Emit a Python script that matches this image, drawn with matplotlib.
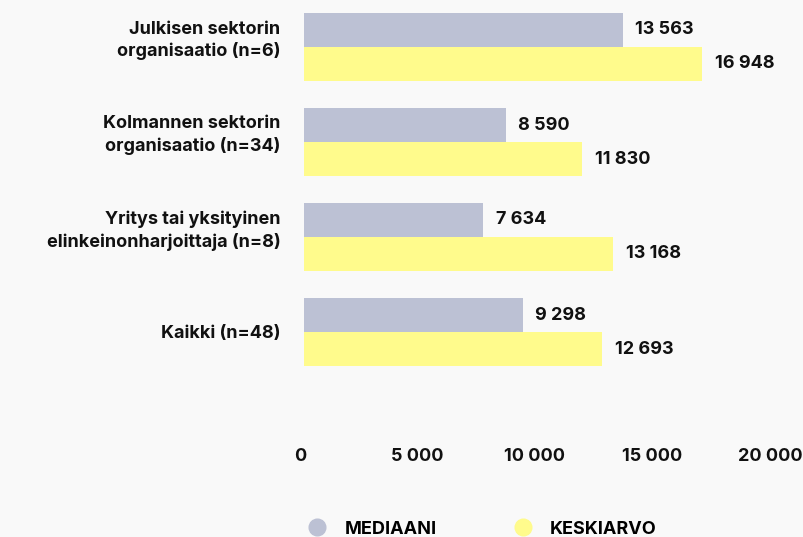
import matplotlib.pyplot as plt
import matplotlib.transforms as mtransforms
from matplotlib.lines import Line2D

categories = ['Julkisen sektorin\norganisaatio (n=6)',
              'Kolmannen sektorin\norganisaatio (n=34)',
              'Yritys tai yksityinen\nelinkeinonharjoittaja (n=8)',
              'Kaikki (n=48)']
mediaani = [13563, 8590, 7634, 9298]
keskiarvo = [16948, 11830, 13168, 12693]
xticks = [0, 5000, 10000, 15000, 20000]
series_names = ['MEDIAANI', 'KESKIARVO']

bg = '#f9f9f9'
c_med = '#bcc1d4'
c_avg = '#fffb8c'
fs = 13

plt.rcParams['font.family'] = ['Inter', 'DejaVu Sans']
plt.rcParams['font.weight'] = 'bold'

fig = plt.figure(figsize=(8.04, 5.37), dpi=100, facecolor=bg)
W, H = 804, 537
ax = fig.add_axes([304 / W, 1 - 440 / H, 470 / W, 435 / H], facecolor=bg)

h = 34 / 95
pos = list(range(len(categories)))
ax.barh([p - h / 2 for p in pos], mediaani, height=h, color=c_med)
ax.barh([p + h / 2 for p in pos], keskiarvo, height=h, color=c_avg)


def fmt(v):
    return f'{v:,}'.replace(',', ' ')


for p, m, k in zip(pos, mediaani, keskiarvo):
    ax.annotate(fmt(m), (m, p - h / 2), xytext=(9, 0), textcoords='offset points',
                va='center', ha='left', fontsize=fs, fontweight='bold', color='#111111')
    ax.annotate(fmt(k), (k, p + h / 2), xytext=(9, 0), textcoords='offset points',
                va='center', ha='left', fontsize=fs, fontweight='bold', color='#111111')

ax.set_xlim(0, 20000)
ax.set_ylim((440 - 47) / 95, (5 - 47) / 95)
ax.set_xticks(xticks)
ax.set_xticklabels([fmt(v) for v in xticks], fontsize=fs, fontweight='bold', color='#111111')
ax.set_yticks(pos)
ax.set_yticklabels(categories, fontsize=fs, fontweight='bold', color='#111111',
                   multialignment='right', linespacing=1.35)
ax.tick_params(axis='both', length=0)
ax.tick_params(axis='x', pad=6)
ax.tick_params(axis='y', pad=17)
for s in ax.spines.values():
    s.set_visible(False)

# nudge labels to match the reference placement
for lbl in ax.get_xticklabels():
    lbl.set_transform(lbl.get_transform() + mtransforms.ScaledTranslation(-4 / 100, 0, fig.dpi_scale_trans))
for lbl in ax.get_yticklabels():
    if '\n' in lbl.get_text():
        lbl.set_transform(lbl.get_transform() + mtransforms.ScaledTranslation(0, 11 / 100, fig.dpi_scale_trans))

handles = [Line2D([], [], marker='o', linestyle='', markersize=12, color=c_med),
           Line2D([], [], marker='o', linestyle='', markersize=12, color=c_avg)]
fig.legend(handles, series_names, loc='center left', bbox_to_anchor=(292 / W, 1 - 529 / H),
           ncol=2, frameon=False, prop={'size': fs, 'weight': 'bold'},
           handletextpad=1.0, columnspacing=4.3, handlelength=1.0)

fig.savefig('out.png', dpi=100, facecolor=bg)
